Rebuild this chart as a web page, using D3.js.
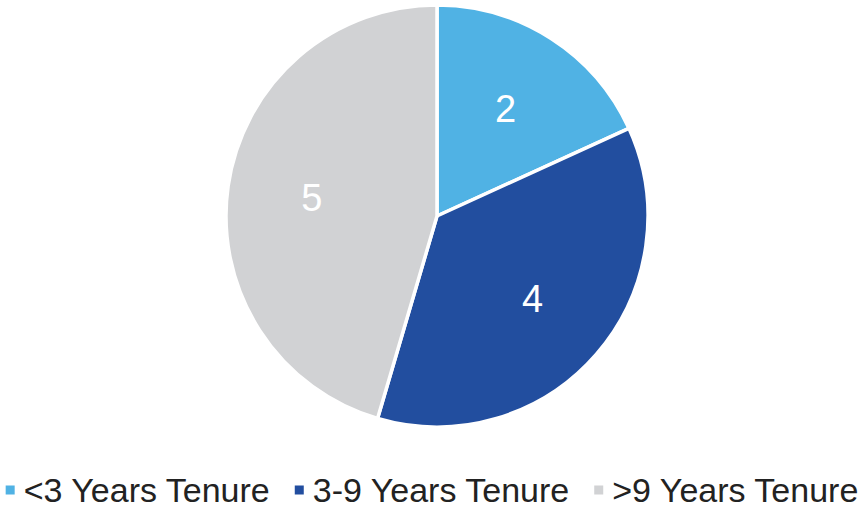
<!DOCTYPE html>
<html>
<head>
<meta charset="utf-8">
<script src="https://cdn.jsdelivr.net/npm/d3@7"></script>
<style>
  html, body { margin: 0; padding: 0; background: #ffffff; }
  svg { display: block; }
</style>
</head>
<body>
<svg id="chart" width="864" height="512"></svg>
<script>
const categories = ["<3 Years Tenure", "3-9 Years Tenure", ">9 Years Tenure"];
const values = [2, 4, 5];
const colors = ["#50B2E4", "#224E9F", "#D1D2D4"];

const W = 864, H = 512;
const cx = 437, cy = 216, R = 211;

const svg = d3.select("#chart");
const g = svg.append("g").attr("transform", `translate(${cx},${cy})`);

const data = categories.map((c, i) => ({ cat: c, value: values[i], color: colors[i] }));
const pie = d3.pie().value(d => d.value).sort(null);
const arcs = pie(data);
const arc = d3.arc().innerRadius(0).outerRadius(R);
const labelArc = d3.arc().innerRadius(R * 0.6).outerRadius(R * 0.6);

g.selectAll("path").data(arcs).join("path")
  .attr("d", arc)
  .attr("fill", d => d.data.color)
  .attr("stroke", "#ffffff")
  .attr("stroke-width", 3.5)
  .attr("stroke-linejoin", "round");

g.selectAll("text.lbl").data(arcs).join("text")
  .attr("class", "lbl")
  .attr("transform", d => `translate(${labelArc.centroid(d)})`)
  .attr("text-anchor", "middle")
  .attr("dominant-baseline", "central")
  .attr("font-family", "Liberation Sans, Arial, sans-serif")
  .attr("font-size", 38)
  .attr("fill", "#ffffff")
  .text(d => d.data.value);

// Legend
const legend = svg.append("g").attr("font-family", "Liberation Sans, Arial, sans-serif");
const fontSize = 34;
const sw = 9, gapSwText = 9, gapItems = 25;
const tmp = legend.append("text").attr("font-size", fontSize);
const widths = categories.map(c => { tmp.text(c); return tmp.node().getComputedTextLength(); });
tmp.remove();
const total = widths.reduce((a, b) => a + b, 0) + categories.length * (sw + gapSwText) + (categories.length - 1) * gapItems;
let x = (W - total) / 2;
const ly = 490;
categories.forEach((c, i) => {
  legend.append("rect")
    .attr("x", x).attr("y", ly - sw / 2)
    .attr("width", sw).attr("height", sw)
    .attr("fill", colors[i]);
  x += sw + gapSwText;
  legend.append("text")
    .attr("x", x).attr("y", ly)
    .attr("dominant-baseline", "central")
    .attr("font-size", fontSize)
    .attr("fill", "#222222")
    .text(c);
  x += widths[i] + gapItems;
});
</script>
</body>
</html>
